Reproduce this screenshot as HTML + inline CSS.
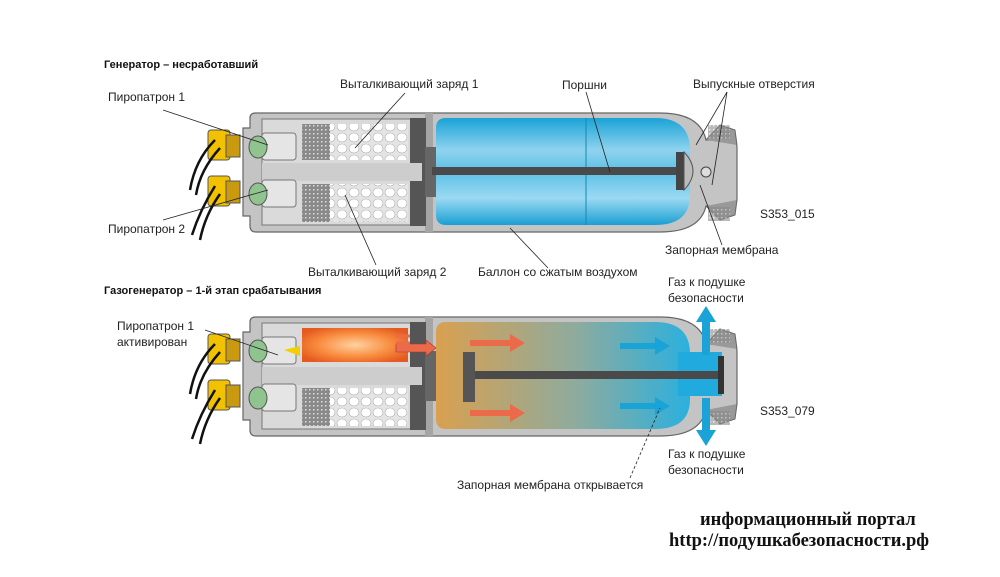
<!DOCTYPE html>
<html><head><meta charset="utf-8"><style>
html,body{margin:0;padding:0;background:#fff;}
svg{display:block}
text{font-family:"Liberation Sans","DejaVu Sans",sans-serif;font-size:12px;fill:#222}
.b{font-weight:bold;font-size:11px;fill:#111}
.w{font-family:"Liberation Serif",serif;font-weight:bold;font-size:18.5px;fill:#111}
</style></head><body>
<svg width="1000" height="577" viewBox="0 0 1000 577" xmlns="http://www.w3.org/2000/svg">
<defs>
<linearGradient id="blue" x1="0" y1="0" x2="0" y2="1">
<stop offset="0" stop-color="#1aa3d6"/><stop offset="0.3" stop-color="#8fd3ef"/><stop offset="0.5" stop-color="#5cc0e6"/><stop offset="0.75" stop-color="#9bd9f2"/><stop offset="1" stop-color="#1a9fd3"/></linearGradient>
<linearGradient id="mix" x1="0" y1="0" x2="1" y2="0">
<stop offset="0" stop-color="#d9a050"/><stop offset="0.55" stop-color="#8eab9e"/><stop offset="1" stop-color="#2bb0de"/></linearGradient>
<radialGradient id="fire" cx="0.5" cy="0.5" r="0.6"><stop offset="0" stop-color="#ffd1a0"/><stop offset="0.6" stop-color="#f88a3c"/><stop offset="1" stop-color="#e45a20"/></radialGradient>
<pattern id="pel" width="12" height="11" patternUnits="userSpaceOnUse"><rect width="12" height="11" fill="#e4e4e4"/><ellipse cx="6" cy="5.5" rx="5" ry="4.5" fill="#fff" stroke="#aaa" stroke-width="0.6"/></pattern>
<pattern id="grit" width="4" height="4" patternUnits="userSpaceOnUse"><rect width="4" height="4" fill="#8a8a8a"/><rect x="1" y="1" width="1.5" height="1.5" fill="#ddd"/></pattern>
<g id="shell">
 <path d="M250 128 L250 118 Q250 113 256 113 L420 113 L420 113 L660 113 Q700 113 706 140 L730 140 Q737 140 737 148 L737 198 Q737 206 730 206 L706 206 Q700 232 660 232 L256 232 Q250 232 250 226 L250 216 L243 216 L243 128 Z" fill="#c4c4c4" stroke="#666" stroke-width="1.2"/>
 <rect x="262" y="119" width="158" height="106" fill="#dadada" stroke="#777"/>
 <rect x="425" y="113" width="8" height="119" fill="#a5a5a5"/>
 <rect x="410" y="118" width="16" height="108" fill="#555"/>
 <rect x="425" y="147" width="17" height="50" fill="#666"/>
 <rect x="262" y="163" width="160" height="18" fill="#cdcdcd"/>
 <rect x="262" y="133" width="34" height="27" rx="3" fill="#e5e5e5" stroke="#777"/>
 <rect x="262" y="180" width="34" height="27" rx="3" fill="#e5e5e5" stroke="#777"/>
 <ellipse cx="258" cy="147" rx="9" ry="11" fill="#8fc48f" stroke="#555"/>
 <ellipse cx="258" cy="194" rx="9" ry="11" fill="#8fc48f" stroke="#555"/>
 <rect x="208" y="130" width="22" height="30" rx="3" fill="#f2c200" stroke="#555"/>
 <rect x="226" y="135" width="14" height="22" fill="#c99a10" stroke="#555"/>
 <rect x="208" y="176" width="22" height="30" rx="3" fill="#f2c200" stroke="#555"/>
 <rect x="226" y="181" width="14" height="22" fill="#c99a10" stroke="#555"/>
 <path d="M215 140 Q195 160 190 190 M220 148 Q200 170 196 195 M215 186 Q200 210 192 235 M220 194 Q205 215 200 240" stroke="#111" stroke-width="2.5" fill="none"/>
 <path d="M706 140 L720 125 L735 130 L737 145 M706 206 L720 220 L735 215 L737 200" fill="#999" stroke="#666"/>
 <rect x="708" y="125" width="22" height="14" fill="url(#grit)" opacity="0.6"/>
 <rect x="708" y="207" width="22" height="14" fill="url(#grit)" opacity="0.6"/>
</g>
</defs>

<use href="#shell"/>
<rect x="302" y="124" width="28" height="36" fill="url(#grit)"/>
<rect x="330" y="124" width="78" height="36" fill="url(#pel)"/>
<rect x="302" y="184" width="28" height="38" fill="url(#grit)"/>
<rect x="330" y="184" width="78" height="38" fill="url(#pel)"/>
<path d="M436 128 Q436 118 446 118 L655 118 Q690 118 690 150 L690 195 Q690 225 655 225 L446 225 Q436 225 436 215 Z" fill="url(#blue)"/>
<line x1="586" y1="118" x2="586" y2="225" stroke="#1687b5"/>
<rect x="432" y="167" width="248" height="8" fill="#4a4a4a"/>
<rect x="676" y="152" width="8" height="38" fill="#444"/>
<path d="M684 152 Q702 171 684 190 Z" fill="#bbb" stroke="#555"/>
<circle cx="706" cy="172" r="5" fill="#ddd" stroke="#444"/>

<g transform="translate(0,204)"><use href="#shell"/></g>
<path d="M302 328 L408 328 L408 362 L302 362 Z" fill="url(#fire)"/>
<path d="M284 350 L300 346 L300 356 Z" fill="#f0d000"/>
<rect x="302" y="388" width="28" height="38" fill="url(#grit)"/>
<rect x="330" y="388" width="78" height="38" fill="url(#pel)"/>
<path d="M436 332 Q436 322 446 322 L655 322 Q690 322 690 354 L690 399 Q690 429 655 429 L446 429 Q436 429 436 419 Z" fill="url(#mix)"/>
<rect x="678" y="352" width="44" height="44" fill="#20aadd"/>
<rect x="463" y="352" width="12" height="50" fill="#555"/>
<rect x="475" y="371" width="248" height="8" fill="#4a4a4a"/>
<rect x="718" y="356" width="6" height="38" fill="#333"/>
<path d="M396 344 L426 344 L426 340 L436 348 L426 356 L426 352 L396 352 Z" fill="#ea6a4a" stroke="#a33" stroke-width="0.6"/>
<path d="M396 336 L410 336 M396 343 L410 343" stroke="#ea6a4a" stroke-width="3"/>
<path d="M470 340 L510 340 L510 334 L525 343 L510 352 L510 346 L470 346 Z" fill="#ea6a4a"/>
<path d="M470 410 L510 410 L510 404 L525 413 L510 422 L510 416 L470 416 Z" fill="#ea6a4a"/>
<path d="M620 343 L655 343 L655 337 L670 346 L655 355 L655 349 L620 349 Z" fill="#1aa3d6"/>
<path d="M620 403 L655 403 L655 397 L670 406 L655 415 L655 409 L620 409 Z" fill="#1aa3d6"/>
<path d="M702 355 L702 322 L696 322 L706 306 L716 322 L710 322 L710 355 Z" fill="#1aa3d6"/>
<path d="M702 398 L702 430 L696 430 L706 446 L716 430 L710 430 L710 398 Z" fill="#1aa3d6"/>

<g stroke="#222" stroke-width="0.8" fill="none">
<line x1="163" y1="110" x2="268" y2="145"/>
<line x1="163" y1="220" x2="268" y2="190"/>
<line x1="405" y1="93" x2="355" y2="148"/>
<line x1="376" y1="265" x2="345" y2="195"/>
<line x1="586" y1="92" x2="610" y2="172"/>
<line x1="727" y1="92" x2="696" y2="145"/>
<line x1="727" y1="92" x2="712" y2="185"/>
<line x1="722" y1="245" x2="700" y2="185"/>
<line x1="548" y1="268" x2="510" y2="228"/>
<line x1="205" y1="330" x2="278" y2="355"/>
<line x1="630" y1="478" x2="660" y2="408" stroke-dasharray="3,2"/>
</g>

<text x="104" y="68" class="b">Генератор – несработавший</text>
<text x="108" y="101">Пиропатрон 1</text>
<text x="108" y="233">Пиропатрон 2</text>
<text x="340" y="88">Выталкивающий заряд 1</text>
<text x="562" y="89">Поршни</text>
<text x="693" y="88">Выпускные отверстия</text>
<text x="760" y="218">S353_015</text>
<text x="665" y="254">Запорная мембрана</text>
<text x="308" y="276">Выталкивающий заряд 2</text>
<text x="478" y="276">Баллон со сжатым воздухом</text>
<text x="104" y="294" class="b">Газогенератор – 1-й этап срабатывания</text>
<text x="668" y="286">Газ к подушке</text>
<text x="668" y="302">безопасности</text>
<text x="117" y="330">Пиропатрон 1</text>
<text x="117" y="346">активирован</text>
<text x="760" y="415">S353_079</text>
<text x="668" y="458">Газ к подушке</text>
<text x="668" y="474">безопасности</text>
<text x="457" y="489">Запорная мембрана открывается</text>
<text x="700" y="525" class="w">информационный портал</text>
<text x="669" y="546" class="w">http://подушкабезопасности.рф</text>
</svg>
</body></html>
